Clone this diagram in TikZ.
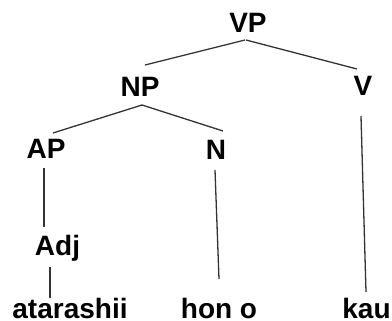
\documentclass[tikz,border=0pt]{standalone}
\usepackage{fontspec}
\setmainfont{Liberation Sans}
\begin{document}
\begin{tikzpicture}[x=1pt,y=-1pt,
  lbl/.style={inner sep=0pt,anchor=base,font=\fontsize{28}{30}\selectfont\bfseries,text=black},
  edge/.style={line width=1.3pt,draw=black!80}]
\useasboundingbox (0,0) rectangle (392,321);
\node[lbl] (VP) at (248,33) {VP};
\node[lbl] (NP) at (140,96.5) {NP};
\node[lbl] (V) at (363,96) {V};
\node[lbl] (AP) at (46,159) {AP};
\node[lbl] (N) at (216,160) {N};
\node[lbl] (Adj) at (57.5,255.5) {Adj};
\node[lbl] (ata) at (70,319) {atarashii};
\node[lbl] (hon) at (219,319) {hon o};
\node[lbl] (kau) at (366.5,319) {kau};
\draw[edge] ([shift={(-3,7)}]VP.base) -- ([shift={(5,-31.5)}]NP.base);
\draw[edge] ([shift={(-2,7)}]VP.base) -- ([shift={(-6,-27)}]V.base);
\draw[edge] ([shift={(2,8.5)}]NP.base) -- ([shift={(7,-26)}]AP.base);
\draw[edge] ([shift={(2,8.5)}]NP.base) -- ([shift={(7,-29)}]N.base);
\draw[edge] ([shift={(-2,20)}]V.base) -- ([shift={(-0.5,-27)}]kau.base);
\draw[edge] ([shift={(-2,9)}]AP.base) -- ([shift={(-13.5,-28.5)}]Adj.base);
\draw[edge] ([shift={(-7.5,11.5)}]Adj.base) -- ([shift={(-20,-21)}]ata.base);
\draw[edge] ([shift={(-1,10)}]N.base) -- ([shift={(0,-40)}]hon.base);
\end{tikzpicture}
\end{document}
